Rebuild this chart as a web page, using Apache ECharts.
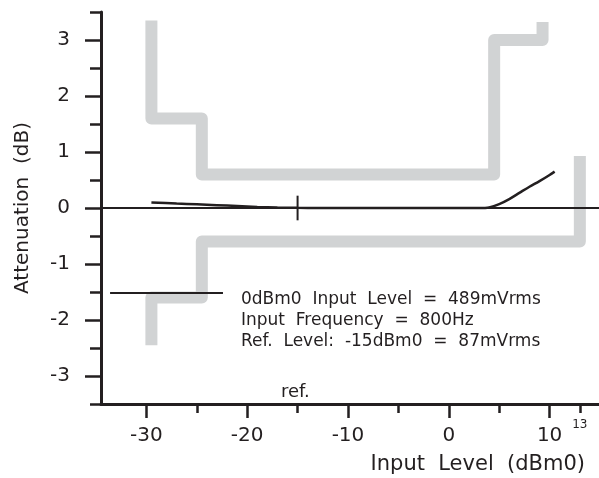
<!DOCTYPE html>
<html>
<head>
<meta charset="utf-8">
<script src="https://cdn.jsdelivr.net/npm/echarts@6/dist/echarts.min.js"></script>
<style>html,body{margin:0;padding:0;background:#fff;}#c{width:599px;height:478px;}</style>
</head>
<body>
<div id="c"></div>
<script>
const X_MIN = -34.5, X_MAX = 14.9, Y_MIN = -3.5, Y_MAX = 3.5;
const xMajorTicks = [-30, -20, -10, 0, 10];
const xMinorTicks = [-25, -15, -5, 5, 13];
const xExtraLabels = [13];
const yMajorTicks = [-3, -2, -1, 0, 1, 2, 3];
const yMinorTicks = [-3.5, -2.5, -1.5, -0.5, 0.5, 1.5, 2.5, 3.5];
const upperMaskX = [-29.5, -29.5, -24.5, -24.5, 4.5, 4.5, 9.3, 9.3];
const upperMaskY = [3.35, 1.6, 1.6, 0.6, 0.6, 3.0, 3.0, 3.32];
const lowerMaskX = [-29.5, -29.5, -24.5, -24.5, 13, 13];
const lowerMaskY = [-2.45, -1.6, -1.6, -0.6, -0.6, 0.93];
const curveX = [-29.5, -27, -25, -23, -21, -19, -17, -15, -13, 0, 3, 4, 5, 6, 7, 8, 9, 10, 10.5];
const curveY = [0.1, 0.08, 0.065, 0.05, 0.035, 0.02, 0.01, 0.003, 0, 0, 0, 0.01, 0.07, 0.16, 0.27, 0.38, 0.48, 0.59, 0.65];
const refMarkX = [-15, -15];
const refMarkY = [-0.22, 0.22];
const legendLineX = [-33.6, -22.4];
const legendLineY = [-1.52, -1.52];
const infoLines = ['0dBm0  Input  Level  =  489mVrms', 'Input  Frequency  =  800Hz', 'Ref.  Level:  -15dBm0  =  87mVrms'];
const refLabel = 'ref.';
const xName = 'Input  Level  (dBm0)';
const yName = 'Attenuation  (dB)';

const pairs = (xs, ys) => xs.map((x, i) => [x, ys[i]]);
const TXT = '#231f20', GREY = '#d1d3d4', FONT = 'DejaVu Sans';

const chart = echarts.init(document.getElementById('c'), null, {renderer: 'canvas'});
chart.setOption({
  animation: false,
  backgroundColor: '#fff',
  grid: {left: 101, right: 0, top: 12, bottom: 74, containLabel: false},
  xAxis: [{
    type: 'value', min: X_MIN, max: X_MAX, position: 'bottom',
    axisLine: {show: true, onZero: false, lineStyle: {color: TXT, width: 3}},
    axisTick: {show: true, customValues: xMajorTicks, length: 14, lineStyle: {color: TXT, width: 2.5}},
    axisLabel: {show: true, customValues: xMajorTicks, margin: 22, color: TXT, fontFamily: FONT, fontSize: 20},
    splitLine: {show: false},
    name: xName, nameLocation: 'end', nameGap: -14,
    nameTextStyle: {color: TXT, fontFamily: FONT, fontSize: 21, align: 'right', verticalAlign: 'top', padding: [50, 0, 0, 0]}
  }, {
    type: 'value', min: X_MIN, max: X_MAX, position: 'bottom', offset: 0,
    axisLine: {show: false, onZero: false},
    axisTick: {show: true, customValues: xMinorTicks, length: 9, lineStyle: {color: TXT, width: 2.5}},
    axisLabel: {show: true, customValues: xExtraLabels, margin: 15, color: TXT, fontFamily: FONT, fontSize: 12},
    splitLine: {show: false}
  }],
  yAxis: [{
    type: 'value', min: Y_MIN, max: Y_MAX, position: 'left',
    axisLine: {show: true, onZero: false, lineStyle: {color: TXT, width: 3}},
    axisTick: {show: true, customValues: yMajorTicks, length: 16, lineStyle: {color: TXT, width: 2.5}},
    axisLabel: {show: true, customValues: yMajorTicks, margin: 31, color: TXT, fontFamily: FONT, fontSize: 20},
    splitLine: {show: false},
    name: yName, nameLocation: 'middle', nameGap: 68, nameRotate: 90,
    nameTextStyle: {color: TXT, fontFamily: FONT, fontSize: 20}
  }, {
    type: 'value', min: Y_MIN, max: Y_MAX, position: 'left', offset: 0,
    axisLine: {show: false, onZero: false},
    axisTick: {show: true, customValues: yMinorTicks, length: 11, lineStyle: {color: TXT, width: 2.5}},
    axisLabel: {show: false},
    splitLine: {show: false}
  }],
  series: [
    {type: 'line', data: pairs(upperMaskX, upperMaskY), showSymbol: false, silent: true, z: 1,
     lineStyle: {color: GREY, width: 12, join: 'round', cap: 'butt'}},
    {type: 'line', data: pairs(lowerMaskX, lowerMaskY), showSymbol: false, silent: true, z: 1,
     lineStyle: {color: GREY, width: 12, join: 'round', cap: 'butt'}},
    {type: 'line', data: [[X_MIN, 0], [X_MAX, 0]], showSymbol: false, silent: true, z: 3,
     lineStyle: {color: TXT, width: 1.8}},
    {type: 'line', data: pairs(curveX, curveY), showSymbol: false, smooth: 0.3, silent: true, z: 4,
     lineStyle: {color: TXT, width: 2.5}},
    {type: 'line', data: pairs(refMarkX, refMarkY), showSymbol: false, silent: true, z: 4,
     lineStyle: {color: TXT, width: 2}},
    {type: 'line', data: pairs(legendLineX, legendLineY), showSymbol: false, silent: true, z: 4,
     lineStyle: {color: TXT, width: 2}}
  ],
  graphic: [
    ...infoLines.map((t, i) => ({type: 'text', left: 241, top: 291 + i * 21, z: 10,
      style: {text: t, fill: TXT, font: '17px "DejaVu Sans"'}})),
    {type: 'text', left: 281, top: 383, z: 10, style: {text: refLabel, fill: TXT, font: '18px "DejaVu Sans"'}}
  ]
});
</script>
</body>
</html>
